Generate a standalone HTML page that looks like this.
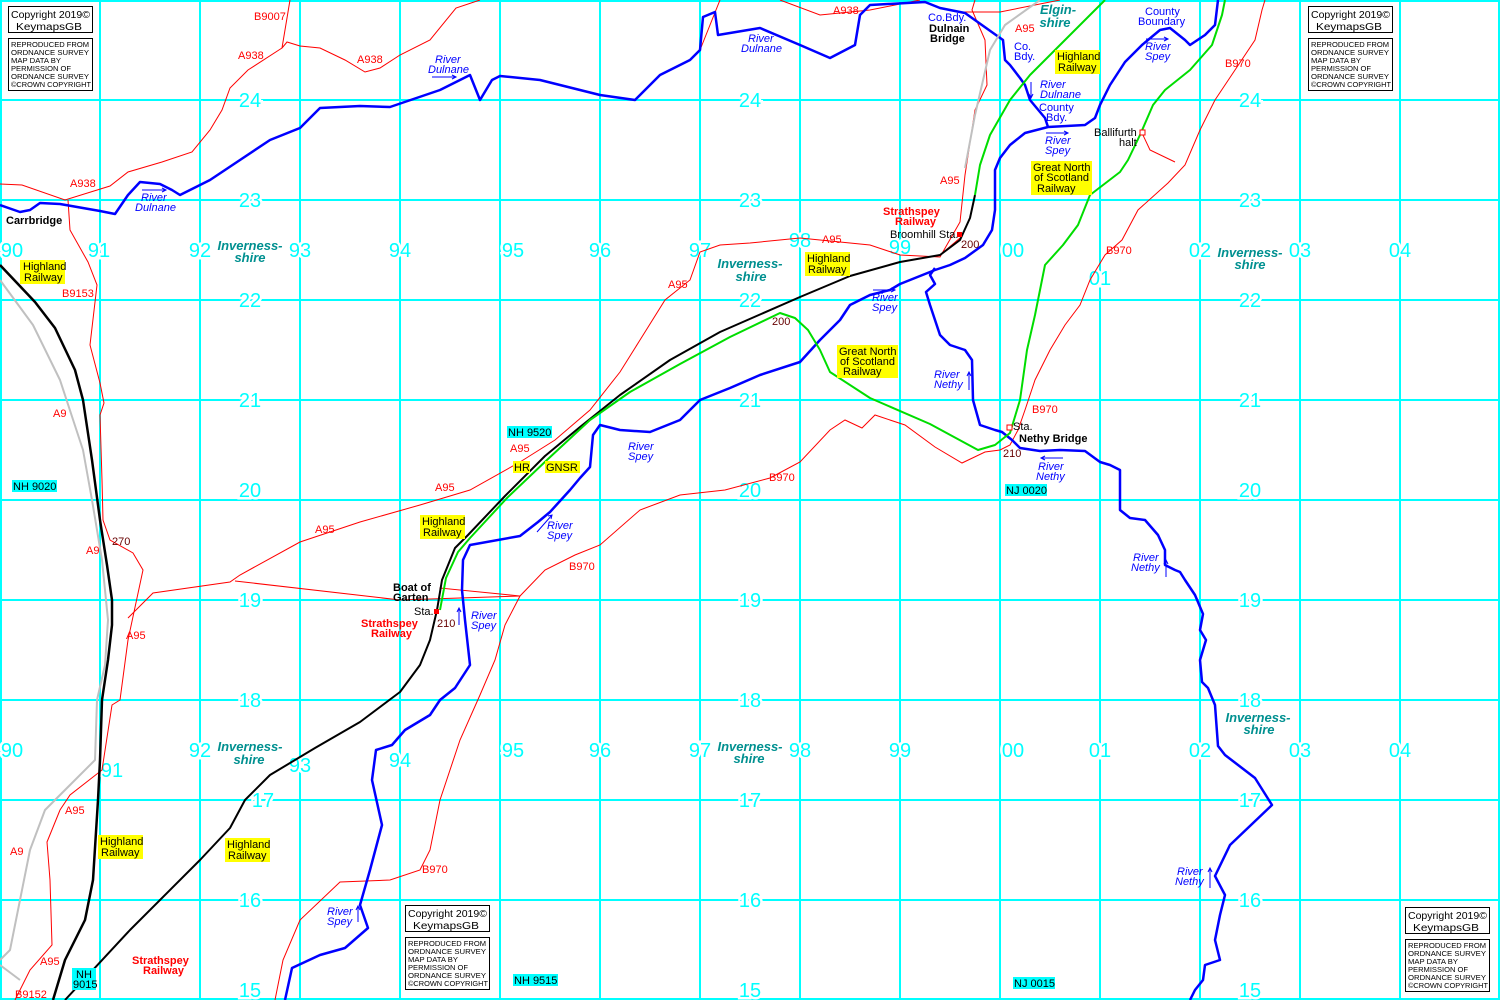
<!DOCTYPE html>
<html><head><meta charset="utf-8"><style>
html,body{margin:0;padding:0;background:#fff}
svg{display:block}
text{font-family:"Liberation Sans",sans-serif}
.g{fill:#00ffff;font-size:20px;text-anchor:middle;stroke:#fff;stroke-width:5;paint-order:stroke}
.r{fill:#ff0000;font-size:11px}
.rv{fill:#0000ff;font-size:11px;font-style:italic}
.bl{fill:#0000ff;font-size:11px}
.k{fill:#000;font-size:11px}
.kb{fill:#000;font-size:11px;font-weight:bold}
.rb{fill:#ff0000;font-size:11px;font-weight:bold}
.cty{fill:#009090;font-size:13px;font-weight:bold;font-style:italic;text-anchor:middle}
.h{fill:#660000;font-size:11px}
.sm{font-size:7.5px;fill:#000}
</style></head><body>
<svg width="1500" height="1000" viewBox="0 0 1500 1000" xmlns="http://www.w3.org/2000/svg">
<rect width="1500" height="1000" fill="#fff"/>
<g stroke="#00ffff" stroke-width="2">
<line x1="1" y1="0" x2="1" y2="1000"/><line x1="100" y1="0" x2="100" y2="1000"/><line x1="200" y1="0" x2="200" y2="1000"/><line x1="300" y1="0" x2="300" y2="1000"/><line x1="400" y1="0" x2="400" y2="1000"/><line x1="500" y1="0" x2="500" y2="1000"/><line x1="600" y1="0" x2="600" y2="1000"/><line x1="700" y1="0" x2="700" y2="1000"/><line x1="800" y1="0" x2="800" y2="1000"/><line x1="900" y1="0" x2="900" y2="1000"/><line x1="1000" y1="0" x2="1000" y2="1000"/><line x1="1100" y1="0" x2="1100" y2="1000"/><line x1="1200" y1="0" x2="1200" y2="1000"/><line x1="1300" y1="0" x2="1300" y2="1000"/><line x1="1400" y1="0" x2="1400" y2="1000"/><line x1="1499" y1="0" x2="1499" y2="1000"/>
<line x1="0" y1="1" x2="1500" y2="1"/><line x1="0" y1="100" x2="1500" y2="100"/><line x1="0" y1="200" x2="1500" y2="200"/><line x1="0" y1="300" x2="1500" y2="300"/><line x1="0" y1="400" x2="1500" y2="400"/><line x1="0" y1="500" x2="1500" y2="500"/><line x1="0" y1="600" x2="1500" y2="600"/><line x1="0" y1="700" x2="1500" y2="700"/><line x1="0" y1="800" x2="1500" y2="800"/><line x1="0" y1="900" x2="1500" y2="900"/><line x1="0" y1="999" x2="1500" y2="999"/>
</g>
<g class="g">
<text x="250" y="107">24</text><text x="750" y="107">24</text><text x="1250" y="107">24</text>
<text x="250" y="207">23</text><text x="750" y="207">23</text><text x="1250" y="207">23</text>
<text x="250" y="307">22</text><text x="750" y="307">22</text><text x="1250" y="307">22</text>
<text x="250" y="407">21</text><text x="750" y="407">21</text><text x="1250" y="407">21</text>
<text x="250" y="497">20</text><text x="750" y="497">20</text><text x="1250" y="497">20</text>
<text x="250" y="607">19</text><text x="750" y="607">19</text><text x="1250" y="607">19</text>
<text x="250" y="707">18</text><text x="750" y="707">18</text><text x="1250" y="707">18</text>
<text x="263" y="807">17</text><text x="750" y="807">17</text><text x="1250" y="807">17</text>
<text x="250" y="907">16</text><text x="750" y="907">16</text><text x="1250" y="907">16</text>
<text x="250" y="997">15</text><text x="750" y="997">15</text><text x="1250" y="997">15</text>
<text x="12" y="257">90</text><text x="99" y="257">91</text><text x="200" y="257">92</text><text x="300" y="257">93</text><text x="400" y="257">94</text><text x="513" y="257">95</text><text x="600" y="257">96</text><text x="700" y="257">97</text><text x="800" y="247">98</text><text x="900" y="254">99</text><text x="1013" y="257">00</text><text x="1100" y="285">01</text><text x="1200" y="257">02</text><text x="1300" y="257">03</text><text x="1400" y="257">04</text>
<text x="12" y="757">90</text><text x="112" y="777">91</text><text x="200" y="757">92</text><text x="300" y="772">93</text><text x="400" y="767">94</text><text x="513" y="757">95</text><text x="600" y="757">96</text><text x="700" y="757">97</text><text x="800" y="757">98</text><text x="900" y="757">99</text><text x="1013" y="757">00</text><text x="1100" y="757">01</text><text x="1200" y="757">02</text><text x="1300" y="757">03</text><text x="1400" y="757">04</text>
</g>
<g fill="none" stroke="#ff0000" stroke-width="1">
<polyline points="0,184 22,185 65,200 110,186 128,172 162,162 192,152 210,130 222,110 230,88 248,70 282,48 290,0"/>
<polyline points="282,48 287,42 300,46 320,48 345,60 365,72 380,68 400,55 430,40 456,8 480,0"/>
<polyline points="68,200 70,230 88,262 97,285 90,345 100,383 104,403 100,415 102,480 103,520 110,540 133,553 143,570 128,640 120,700 112,705 102,770 70,795 60,810 47,842 50,880 52,945 30,970 15,1000"/>
<polyline points="128,618 153,593 230,582 240,575 300,542 360,522 420,505 470,490 520,462 555,440 590,410 620,372 640,340 665,300 690,280 700,252 720,245 750,243 800,238 870,245 900,255 940,257 960,222 965,175 975,110 987,85 985,40 972,10 975,0"/>
<polyline points="235,581 400,600 520,596"/>
<polyline points="440,592 440,588 520,596 505,625 495,660 480,695 460,740 440,800 430,850 420,870 390,880 340,882 300,920 283,960 275,1000"/>
<polyline points="520,596 545,570 575,555 600,545 640,510 680,495 725,490 770,478 800,462 830,430 845,420 862,428 875,415 905,425 935,447 962,463 985,452 1000,450 1010,445 1018,430 1025,410 1035,380 1050,350 1065,325 1080,305 1090,280 1105,255 1122,240 1138,210 1168,183 1185,165 1200,130 1215,100 1235,70 1255,40 1262,10 1265,0"/>
<polyline points="1142,133 1150,150 1175,162"/>
<polyline points="700,50 720,0"/>
<polyline points="780,0 820,15 870,10 900,4 920,0"/>
<polyline points="960,12 1000,12 1060,0"/>
<polyline points="940,255 960,238"/>
</g>
<g fill="none" stroke="#0000ff" stroke-width="2.5" stroke-linejoin="round">
<polyline points="0,205 20,212 30,210 40,203 60,204 100,211 115,214 128,195 140,182 160,184 172,190 180,195 210,180 240,160 270,140 300,128 320,108 360,106 390,107 440,90 470,75 480,100 492,80 500,76 540,80 600,95 635,100 660,75 690,60 700,50 703,17 715,12 718,35 760,28 800,45 830,58 855,45 860,15 870,5 925,2 940,8 965,13 1003,40 1005,60 1010,65 1020,78 1025,85 1030,100 1045,118 1048,127"/>
<polyline points="285,1000 292,968 320,955 345,948 368,928 360,905 370,870 382,825 372,780 376,750 392,745 405,730 430,715 440,700 455,688 470,665 465,620 462,590 463,560 470,545 520,536 538,522 550,512 570,490 580,478 590,467 593,435 600,425 620,430 650,432 680,420 700,400 730,388 760,375 800,362 820,340 840,320 850,305 870,295 890,290 900,284 935,270 950,265 965,258 983,245 992,230 995,210 995,170 1000,158 1010,145 1025,133 1048,127 1085,125 1095,118 1100,105 1110,85 1125,62 1142,45 1160,30 1170,28 1185,40 1190,45 1205,35 1215,25 1218,0"/>
<polyline points="935,268 930,275 935,284 926,292 930,305 940,335 950,345 965,350 972,360 973,400 980,425 995,430 1002,432 1012,440 1020,448 1040,451 1060,450 1085,451 1100,462 1110,465 1120,470 1120,510 1130,518 1145,520 1158,535 1165,550 1165,565 1175,570 1180,572 1185,580 1195,595 1203,614 1200,630 1206,640 1200,660 1202,682 1208,688 1215,705 1218,746 1225,755 1255,778 1272,805 1230,845 1215,876 1225,895 1220,915 1215,940 1220,960 1205,965 1203,980 1195,990 1190,1000"/>
</g>
<g fill="none" stroke-linejoin="round">
<polyline stroke="#c0c0c0" stroke-width="2" points="0,280 33,325 60,380 83,450 92,500 102,560 108,620 105,665 97,700 95,760 70,785 45,810 30,850 20,900 10,950 0,960"/>
<polyline stroke="#c0c0c0" stroke-width="2" points="0,965 20,980"/>
<polyline stroke="#c0c0c0" stroke-width="2" points="965,168 975,115 990,50 1005,25 1040,0"/>
<polyline stroke="#000" stroke-width="2.5" points="0,265 35,302 55,328 75,370 83,400 92,460 100,520 107,565 112,600 112,625 108,660 102,700 100,760 98,800 93,880 85,920 65,960 53,1000"/>
<polyline stroke="#000" stroke-width="2" points="65,1000 130,930 200,860 230,828 245,800 270,775 315,748 360,722 400,692 420,665 430,640 437,610 442,580 455,548 468,535 505,496 545,456 580,427 620,395 670,360 720,332 800,297 850,276 900,262 940,255 960,240 970,218 975,195"/>
<polyline stroke="#00dd00" stroke-width="2" points="440,610 446,578 458,552 470,538 507,498 548,459 590,420 630,392 680,364 730,337 780,313 795,318 808,330 820,350 830,372 870,398 930,424 978,450 995,445 1010,433 1020,400 1027,350 1035,315 1045,265 1063,245 1078,225 1090,195 1120,172 1128,160 1140,135 1153,105 1165,90 1190,70 1212,45 1222,15 1225,0"/>
<polyline stroke="#00dd00" stroke-width="2" points="975,195 980,165 990,135 1010,100 1030,75 1060,45 1105,0"/>
</g>
<rect x="957" y="232" width="5" height="5" fill="#ff0000"/>
<rect x="434" y="609" width="5" height="5" fill="#ff0000"/>
<rect x="1140" y="130" width="5" height="5" fill="#fff" stroke="#ff0000"/>
<rect x="1007" y="425" width="5" height="5" fill="#fff" stroke="#ff0000"/>
<g class="r">
<text x="254" y="20">B9007</text><text x="238" y="59">A938</text><text x="357" y="63">A938</text><text x="70" y="187">A938</text>
<text x="833" y="14">A938</text><text x="1015" y="32">A95</text><text x="940" y="184">A95</text><text x="822" y="243">A95</text>
<text x="668" y="288">A95</text><text x="510" y="452">A95</text><text x="435" y="491">A95</text><text x="315" y="533">A95</text>
<text x="62" y="297">B9153</text><text x="53" y="417">A9</text><text x="86" y="554">A9</text><text x="126" y="639">A95</text>
<text x="65" y="814">A95</text><text x="10" y="855">A9</text><text x="40" y="965">A95</text><text x="15" y="998">B9152</text>
<text x="1225" y="67">B970</text><text x="1106" y="254">B970</text><text x="1032" y="413">B970</text><text x="769" y="481">B970</text>
<text x="569" y="570">B970</text><text x="422" y="873">B970</text>
</g>
<g class="h"><text x="961" y="248">200</text><text x="772" y="325">200</text><text x="437" y="627">210</text><text x="1003" y="457">210</text><text x="112" y="545">270</text></g>
<g class="rv">
<text x="141" y="201">River</text><text x="135" y="211">Dulnane</text>
<text x="435" y="63">River</text><text x="428" y="73">Dulnane</text>
<text x="748" y="42">River</text><text x="741" y="52">Dulnane</text>
<text x="1040" y="88">River</text><text x="1040" y="98">Dulnane</text>
<text x="1145" y="50">River</text><text x="1145" y="60">Spey</text>
<text x="1045" y="144">River</text><text x="1045" y="154">Spey</text>
<text x="872" y="301">River</text><text x="872" y="311">Spey</text>
<text x="628" y="450">River</text><text x="628" y="460">Spey</text>
<text x="547" y="529">River</text><text x="547" y="539">Spey</text>
<text x="471" y="619">River</text><text x="471" y="629">Spey</text>
<text x="327" y="915">River</text><text x="327" y="925">Spey</text>
<text x="934" y="378">River</text><text x="934" y="388">Nethy</text>
<text x="1038" y="470">River</text><text x="1036" y="480">Nethy</text>
<text x="1133" y="561">River</text><text x="1131" y="571">Nethy</text>
<text x="1177" y="875">River</text><text x="1175" y="885">Nethy</text>
</g>
<g stroke="#0000ff" stroke-width="1" fill="none">
<path d="M142 190 H166 M162 188 L166 190 L162 192"/><path d="M432 77 H456 M452 75 L456 77 L452 79"/>
<path d="M1146 39 H1168 M1164 37 L1168 39 L1164 41"/><path d="M1046 133 H1068 M1064 131 L1068 133 L1064 135"/>
<path d="M873 290 H895 M891 288 L895 290 L891 292"/><path d="M1063 458 H1041 M1045 456 L1041 458 L1045 460"/>
<path d="M1031 82 V98 M1029 94 L1031 98 L1033 94"/><path d="M969 390 V372 M967 376 L969 372 L971 376"/>
<path d="M459 625 V608 M457 612 L459 608 L461 612"/><path d="M358 922 V906 M356 910 L358 906 L360 910"/>
<path d="M1166 577 V560 M1164 564 L1166 560 L1168 564"/><path d="M1210 888 V868 M1208 872 L1210 868 L1212 872"/>
<path d="M537 532 L552 515 M548 516 L552 515 L551 519"/>
</g>
<g class="bl"><text x="928" y="21">Co.Bdy.</text><text x="1014" y="50">Co.</text><text x="1014" y="60">Bdy.</text>
<text x="1039" y="111">County</text><text x="1046" y="121">Bdy.</text><text x="1145" y="15">County</text><text x="1138" y="25">Boundary</text></g>
<g class="cty"><text x="250" y="250">Inverness-</text><text x="250" y="262">shire</text>
<text x="750" y="268">Inverness-</text><text x="751" y="281">shire</text>
<text x="1250" y="257">Inverness-</text><text x="1250" y="269">shire</text>
<text x="250" y="751">Inverness-</text><text x="249" y="764">shire</text>
<text x="750" y="751">Inverness-</text><text x="749" y="763">shire</text>
<text x="1258" y="722">Inverness-</text><text x="1259" y="734">shire</text>
<text x="1058" y="14">Elgin-</text><text x="1055" y="27">shire</text></g>
<text class="kb" x="6" y="224">Carrbridge</text>
<text class="kb" x="929" y="32">Dulnain</text><text class="kb" x="930" y="42">Bridge</text>
<text class="k" x="890" y="238">Broomhill Sta.</text>
<text class="rb" x="883" y="215">Strathspey</text><text class="rb" x="895" y="225">Railway</text>
<text class="kb" x="393" y="591">Boat of</text><text class="kb" x="393" y="601">Garten</text>
<text class="k" x="414" y="615">Sta.</text>
<text class="rb" x="361" y="627">Strathspey</text><text class="rb" x="371" y="637">Railway</text>
<text class="rb" x="132" y="964">Strathspey</text><text class="rb" x="143" y="974">Railway</text>
<text class="k" x="1094" y="136">Ballifurth</text><text class="k" x="1119" y="146">halt</text>
<text class="k" x="1013" y="430">Sta.</text><text class="kb" x="1019" y="442">Nethy Bridge</text>
<g>
<rect x="20" y="260" width="45" height="24" fill="#ffff00"/><text class="k" x="23" y="270">Highland</text><text class="k" x="24" y="281">Railway</text>
<rect x="1055" y="50" width="45" height="24" fill="#ffff00"/><text class="k" x="1057" y="60">Highland</text><text class="k" x="1058" y="71">Railway</text>
<rect x="805" y="252" width="45" height="24" fill="#ffff00"/><text class="k" x="807" y="262">Highland</text><text class="k" x="808" y="273">Railway</text>
<rect x="420" y="515" width="45" height="24" fill="#ffff00"/><text class="k" x="422" y="525">Highland</text><text class="k" x="423" y="536">Railway</text>
<rect x="98" y="835" width="45" height="24" fill="#ffff00"/><text class="k" x="100" y="845">Highland</text><text class="k" x="101" y="856">Railway</text>
<rect x="225" y="838" width="45" height="24" fill="#ffff00"/><text class="k" x="227" y="848">Highland</text><text class="k" x="228" y="859">Railway</text>
<rect x="1031" y="161" width="61" height="34" fill="#ffff00"/><text class="k" x="1033" y="171">Great North</text><text class="k" x="1034" y="181">of Scotland</text><text class="k" x="1037" y="192">Railway</text>
<rect x="837" y="345" width="61" height="33" fill="#ffff00"/><text class="k" x="839" y="355">Great North</text><text class="k" x="840" y="365">of Scotland</text><text class="k" x="843" y="375">Railway</text>
<rect x="513" y="461" width="17" height="12" fill="#ffff00"/><text class="k" x="514" y="471">HR</text>
<rect x="545" y="461" width="35" height="12" fill="#ffff00"/><text class="k" x="546" y="471">GNSR</text>
</g>
<g>
<rect x="507" y="426" width="45" height="12" fill="#00ffff"/><text class="k" x="508" y="436">NH 9520</text>
<rect x="12" y="480" width="45" height="12" fill="#00ffff"/><text class="k" x="13" y="490">NH 9020</text>
<rect x="1005" y="484" width="42" height="12" fill="#00ffff"/><text class="k" x="1006" y="494">NJ 0020</text>
<rect x="513" y="974" width="45" height="12" fill="#00ffff"/><text class="k" x="514" y="984">NH 9515</text>
<rect x="1013" y="977" width="42" height="12" fill="#00ffff"/><text class="k" x="1014" y="987">NJ 0015</text>
<rect x="72" y="968" width="24" height="22" fill="#00ffff"/><text class="k" x="76" y="978">NH</text><text class="k" x="73" y="988">9015</text>
</g>
<g id="cb">
<rect x="8.5" y="6.5" width="84" height="26" fill="#fff" stroke="#000"/>
<text x="11" y="18" style="font-size:10px" textLength="79" lengthAdjust="spacingAndGlyphs">Copyright 2019©</text><text x="16" y="30" style="font-size:10px" textLength="66" lengthAdjust="spacingAndGlyphs">KeymapsGB</text>
<rect x="8.5" y="38.5" width="84" height="52" fill="#fff" stroke="#000"/>
<text class="sm" x="11" y="47" textLength="78" lengthAdjust="spacingAndGlyphs">REPRODUCED FROM</text><text class="sm" x="11" y="55" textLength="78" lengthAdjust="spacingAndGlyphs">ORDNANCE SURVEY</text><text class="sm" x="11" y="63" textLength="50" lengthAdjust="spacingAndGlyphs">MAP DATA BY</text><text class="sm" x="11" y="71" textLength="60" lengthAdjust="spacingAndGlyphs">PERMISSION OF</text><text class="sm" x="11" y="79" textLength="78" lengthAdjust="spacingAndGlyphs">ORDNANCE SURVEY</text><text class="sm" x="11" y="87" textLength="80" lengthAdjust="spacingAndGlyphs">©CROWN COPYRIGHT</text>
</g>
<use href="#cb" x="1300" y="0"/>
<use href="#cb" x="397" y="899"/>
<use href="#cb" x="1397" y="901"/>
</svg>
</body></html>
